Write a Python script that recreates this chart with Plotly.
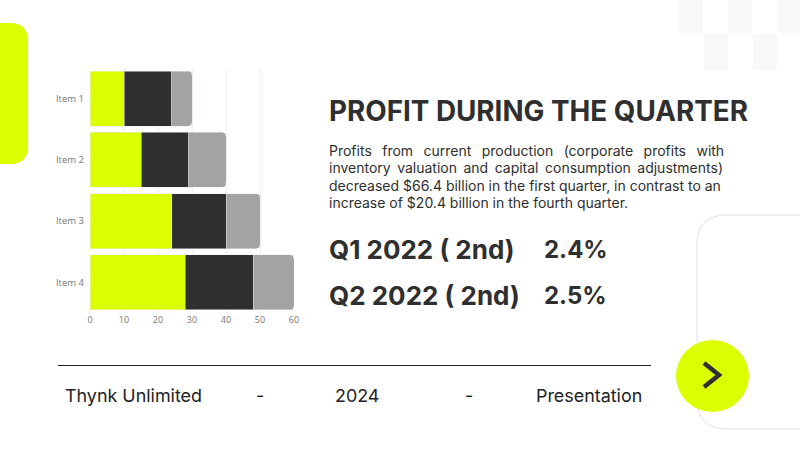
import plotly.graph_objects as go

W = 800
H = 449

items = ['Item 1', 'Item 2', 'Item 3', 'Item 4']
green_vals = [10, 15, 24, 28]
dark_vals = [14, 14, 16, 20]
gray_vals = [6, 11, 10, 12]
x_ticks = [0, 10, 20, 30, 40, 50, 60]

GREEN = '#dcff00'
DARK = '#2f2f2f'
GRAY = '#a3a3a3'
TICK = '#777777'
FONT = 'Inter'

title_text = 'PROFIT DURING THE QUARTER'
# justified in the original, so the gaps are widened by hand
WIDE = '&nbsp;&nbsp;&#8202;&#8202;'
HAIR = ' &#8202;&#8202;'
body_lines = [
    WIDE.join(['Profits', 'from', 'current', 'production', '(corporate', 'profits', 'with']),
    HAIR.join(['inventory', 'valuation', 'and', 'capital', 'consumption', 'adjustments)']),
    'decreased $66.4 billion in the first quarter, in contrast to an',
    'increase of $20.4 billion in the fourth quarter.',
]
body_y = [150, 167, 185, 203]
quarters = ['Q1 2022 ( 2nd)', 'Q2 2022 ( 2nd)']
quarter_vals = ['2.4%', '2.5%']
quarter_y = [249, 295]
footer = [('Thynk Unlimited', 65, 'left'), ('-', 260, 'center'), ('2024', 357, 'center'),
          ('-', 469, 'center'), ('Presentation', 642, 'right')]


def px(x):
    return x / W


def py(y):
    return 1 - y / H


def label(text, x, y, size, color=DARK, anchor='left'):
    fig.add_annotation(text=text, xref='paper', yref='paper', x=px(x), y=py(y), showarrow=False,
                       xanchor=anchor, yanchor='middle', borderpad=0, borderwidth=0,
                       font=dict(family=FONT, size=size, color=color))


fig = go.Figure()
fig.add_trace(go.Bar(y=items, x=green_vals, orientation='h', marker_color=GREEN))
fig.add_trace(go.Bar(y=items, x=dark_vals, orientation='h', marker_color=DARK))
fig.add_trace(go.Bar(y=items, x=gray_vals, orientation='h', marker_color=GRAY))

fig.update_layout(
    width=W, height=H, margin=dict(l=0, r=0, t=0, b=0, autoexpand=False),
    paper_bgcolor='white', plot_bgcolor='white',
    barmode='stack', bargap=0.1, barcornerradius=4, showlegend=False,
    font=dict(family='Open Sans', size=9, color=TICK),
    xaxis=dict(domain=[px(90), px(294)], range=[0, 60], tickvals=x_ticks, showgrid=True,
               gridcolor='#f0f0f0', zeroline=False, ticks='', automargin=False,
               tickfont=dict(size=9, color=TICK)),
    yaxis=dict(domain=[py(313), py(68)], autorange='reversed', showgrid=False, ticks='', automargin=False,
               ticklabelstandoff=5, tickfont=dict(size=9.5, color=TICK)),
)

# background decoration
shapes = []
for x0, x1, y0, y1 in [(679, 703, 0, 33), (728, 752, 0, 33), (778, 800, 0, 33), (704, 728, 34, 70), (753, 777, 34, 70)]:
    shapes.append(dict(type='rect', xref='paper', yref='paper', x0=px(x0), x1=px(x1), y0=py(y0), y1=py(y1),
                       fillcolor='#f8f8f8', line_width=0, layer='below'))
fig.update_layout(shapes=shapes)

# green tab on the left edge
fig.add_shape(type='path', xref='paper', yref='paper', fillcolor=GREEN, line_width=0,
              path=f'M 0 {py(23)} L {px(10)} {py(23)} Q {px(28)} {py(23)} {px(28)} {py(41)} '
                   f'L {px(28)} {py(146)} Q {px(28)} {py(164)} {px(10)} {py(164)} L 0 {py(164)} Z')
# outlined card, runs off the right edge
fig.add_shape(type='path', xref='paper', yref='paper', line=dict(color='#e2e2e2', width=1),
              path=f'M {px(801)} {py(215)} L {px(727)} {py(215)} Q {px(697)} {py(215)} {px(697)} {py(245)} '
                   f'L {px(697)} {py(399)} Q {px(697)} {py(429)} {px(727)} {py(429)} L {px(801)} {py(429)}')
fig.add_shape(type='line', xref='paper', yref='paper', x0=px(58), x1=px(651), y0=py(365.5), y1=py(365.5),
              line=dict(color='#222222', width=1))
fig.add_shape(type='circle', xref='paper', yref='paper', x0=px(676), x1=px(749), y0=py(340), y1=py(412),
              fillcolor=GREEN, line_width=0)
fig.add_shape(type='path', xref='paper', yref='paper', line=dict(color=DARK, width=4.5),
              path=f'M {px(704)} {py(363)} L {px(719)} {py(375)} L {px(704)} {py(387)}')

label(f'<b>{title_text}</b>', 329, 111, 27.8)
for line, y in zip(body_lines, body_y):
    label(line, 329, y, 14)
for q, val, y in zip(quarters, quarter_vals, quarter_y):
    label(f'<b>{q}</b>', 329, y, 26)
    label(f'<b>{val}</b>', 544, y, 24)
for text, x, anchor in footer:
    label(text, x, 395, 17.9, color='#222222', anchor=anchor)

fig.write_html('out.html', config=dict(displayModeBar=False), post_script="document.body.style.margin='0';")
